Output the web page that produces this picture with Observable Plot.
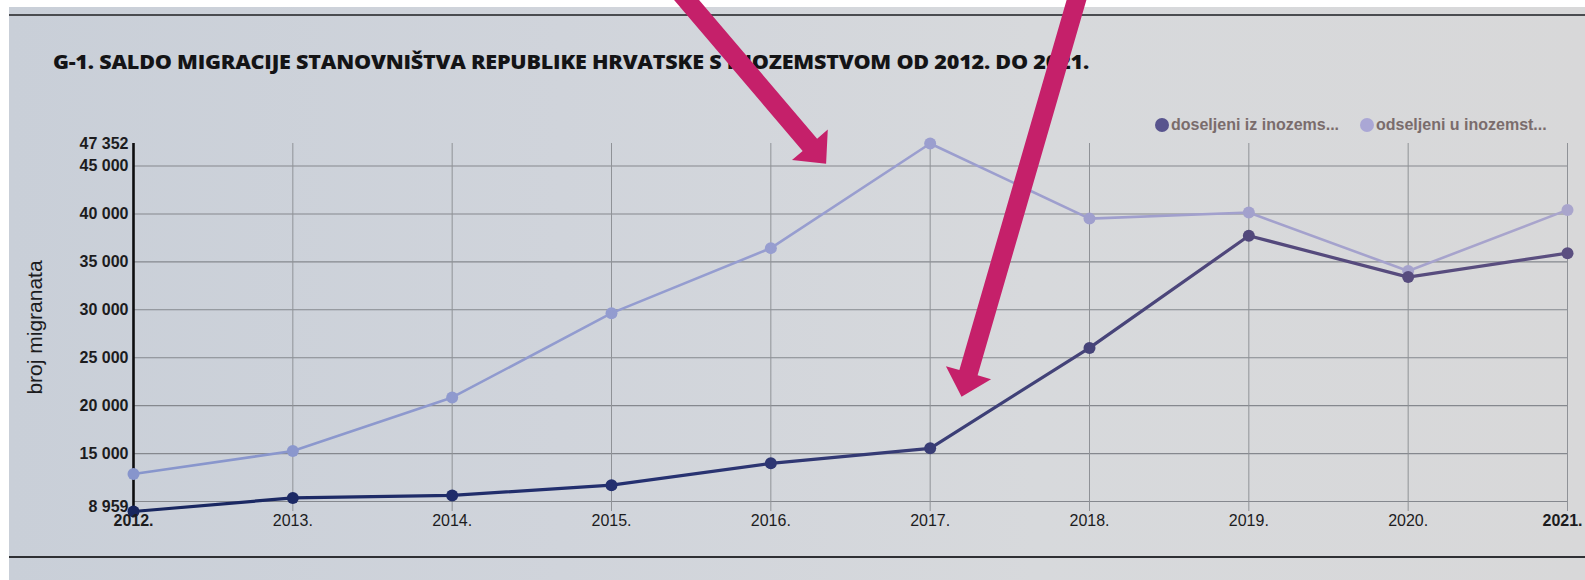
<!DOCTYPE html>
<html>
<head>
<meta charset="utf-8">
<script src="https://cdn.jsdelivr.net/npm/d3@7"></script>
<script src="https://cdn.jsdelivr.net/npm/@observablehq/plot@0.6"></script>
<style>
  html, body { margin: 0; padding: 0; background: #ffffff; }
  #page { position: relative; width: 1585px; height: 580px; overflow: hidden; background: #ffffff; }
  #paper { position: absolute; left: 9px; top: 7px; right: 0; bottom: 0;
    background: linear-gradient(to right, #c9cfd8 0%, #d0d4db 35%, #d7d9dc 65%, #d8d8d9 100%); }
  #topRule { position: absolute; left: 9px; right: 0; top: 14px; height: 2px; background: #4a4c50; }
  #bottomRule { position: absolute; left: 9px; right: 0; top: 556px; height: 2px; background: #2f3034; }
  #title { position: absolute; left: 53px; top: 48px; font-family: "Open Sans", sans-serif; font-weight: 800;
    font-size: 20px; color: #141416; white-space: nowrap; transform-origin: 0 0; letter-spacing: -0.2px; }
  #legend { position: absolute; top: 117px; left: 0; width: 1585px; height: 20px;
    font-family: "Liberation Sans", Arial, sans-serif; font-size: 16px; font-weight: bold; color: #7a6c6c; }
  .lg { position: absolute; top: 0; white-space: nowrap; line-height: 16px; }
  .sw { display: inline-block; width: 14px; height: 14px; border-radius: 50%; vertical-align: -2px; margin-right: 2px; }
  #chart { position: absolute; left: 0; top: 0; }
</style>
</head>
<body>
<div id="page">
  <div id="paper"></div>
  <div id="topRule"></div>
  <div id="bottomRule"></div>
  <div id="title">G-1. SALDO MIGRACIJE STANOVNIŠTVA REPUBLIKE HRVATSKE S INOZEMSTVOM OD 2012. DO 2021.</div>
  <div id="legend"></div>
  <div id="chart"></div>
</div>
<script>
// ---- data ----
const years = [2012, 2013, 2014, 2015, 2016, 2017, 2018, 2019, 2020, 2021];
const immigrants = [8959, 10378, 10638, 11706, 13985, 15553, 26029, 37726, 33414, 35912];   // doseljeni iz inozemstva
const emigrants  = [12877, 15262, 20858, 29651, 36436, 47352, 39515, 40148, 34046, 40424];  // odseljeni u inozemstvo
const seriesNames = ["doseljeni iz inozems...", "odseljeni u inozemst..."];
const yTickValues = [8959, 15000, 20000, 25000, 30000, 35000, 40000, 45000, 47352];
const yGridValues = [10000, 15000, 20000, 25000, 30000, 35000, 40000, 45000];
const xTickLabels = ["2012.", "2013.", "2014.", "2015.", "2016.", "2017.", "2018.", "2019.", "2020.", "2021."];
const yAxisTitle = "broj migranata";
// magenta annotation arrows (photo overlay), in data units
const arrowFromYear  = [2015.42, 2017.94];
const arrowFromValue = [63330, 63330];
const arrowToYear    = [2016.35, 2017.20];
const arrowToValue   = [45180, 20880];

// ---- build tables ----
const immRows = years.map((y, i) => ({year: y, value: immigrants[i]}));
const emiRows = years.map((y, i) => ({year: y, value: emigrants[i]}));
const arrowRows = arrowFromYear.map((_, i) => ({x1: arrowFromYear[i], y1: arrowFromValue[i], x2: arrowToYear[i], y2: arrowToValue[i]}));
const yMin = d3.min(yTickValues), yMax = d3.max(yTickValues);
const fmt = d => d3.format(",")(d).replace(/,/g, " ");

// legend
const legendColors = ["#58548e", "#aaa7d5"];
const legendX = [1155, 1360];
const legend = document.getElementById("legend");
seriesNames.forEach((name, i) => {
  const el = document.createElement("div");
  el.className = "lg";
  el.style.left = legendX[i] + "px";
  el.innerHTML = `<span class="sw" style="background:${legendColors[i]}"></span>${name}`;
  legend.appendChild(el);
});

// gradient defs (photo lighting)
function defsMark(index, scales) {
  const x0 = scales.x(years[0]), x1 = scales.x(years[years.length - 1]);
  const svg = d3.create("svg:g");
  const defs = svg.append("defs");
  const mk = (id, stops) => {
    const g = defs.append("linearGradient").attr("id", id).attr("gradientUnits", "userSpaceOnUse")
      .attr("x1", x0).attr("x2", x1).attr("y1", 0).attr("y2", 0);
    stops.forEach(([o, c]) => g.append("stop").attr("offset", o).attr("stop-color", c));
  };
  mk("gradLow", [[0, "#18265f"], [0.35, "#243070"], [0.6, "#3e4077"], [0.8, "#54497c"], [1, "#5b4f80"]]);
  mk("gradHigh", [[0, "#8795cc"], [0.4, "#959dd0"], [0.7, "#a09fcd"], [1, "#a9a5cc"]]);
  return svg.node();
}

function arrowsMark(index, scales) {
  const g = d3.create("svg:g");
  const shaft = 19, headLen = 25, headHalf = 23.5;
  for (const a of arrowRows) {
    const sx = scales.x(a.x1), sy = scales.y(a.y1), tx = scales.x(a.x2), ty = scales.y(a.y2);
    const dx = tx - sx, dy = ty - sy, L = Math.hypot(dx, dy);
    const ux = dx / L, uy = dy / L, nx = -uy, ny = ux;
    const bx = tx - ux * headLen, by = ty - uy * headLen;
    const pts = [
      [sx + nx * shaft / 2, sy + ny * shaft / 2],
      [bx + nx * shaft / 2, by + ny * shaft / 2],
      [bx + nx * headHalf, by + ny * headHalf],
      [tx, ty],
      [bx - nx * headHalf, by - ny * headHalf],
      [bx - nx * shaft / 2, by - ny * shaft / 2],
      [sx - nx * shaft / 2, sy - ny * shaft / 2]
    ];
    g.append("polygon").attr("points", pts.map(p => p.join(",")).join(" ")).attr("fill", "#c5206a");
  }
  return g.node();
}

const font = "Liberation Sans, Arial, sans-serif";
const plot = Plot.plot({
  width: 1585,
  height: 580,
  marginLeft: 133,
  marginRight: 18,
  marginTop: 143,
  marginBottom: 69,
  style: {background: "transparent", overflow: "visible", color: "#1c1c1e"},
  x: {type: "linear", domain: [years[0], years[years.length - 1]]},
  y: {domain: [yMin, yMax]},
  marks: [
    defsMark,
    Plot.ruleY(yGridValues, {x1: years[0], x2: years[years.length - 1], stroke: "#85888e", strokeWidth: 1.1}),
    Plot.ruleX(years.slice(1), {y1: yMin, y2: yMax, stroke: "#8f9297", strokeWidth: 1}),
    Plot.ruleX([years[0]], {y1: yMin, y2: yMax, stroke: "#0d0d0f", strokeWidth: 2.6}),
    Plot.line(emiRows, {x: "year", y: "value", stroke: "url(#gradHigh)", strokeWidth: 2.6}),
    Plot.dot(emiRows, {x: "year", y: "value", r: 6, fill: "url(#gradHigh)"}),
    Plot.line(immRows, {x: "year", y: "value", stroke: "url(#gradLow)", strokeWidth: 3.2}),
    Plot.dot(immRows, {x: "year", y: "value", r: 6, fill: "url(#gradLow)"}),
    Plot.axisY(yTickValues.filter(v => v !== yMin), {tickSize: 0, tickPadding: 5, tickFormat: fmt, fontSize: 16, fontWeight: "bold",
      fontFamily: font, label: null}),
    Plot.axisY([yMin], {tickSize: 0, tickPadding: 5, tickFormat: fmt, fontSize: 16, fontWeight: "bold",
      fontFamily: font, label: null, dy: -5}),
    Plot.axisX(years.slice(0, -1), {tickSize: 0, tickPadding: 3, tickFormat: d => xTickLabels[years.indexOf(d)], fontSize: 16,
      fontFamily: font, label: null}),
    Plot.axisX(years.slice(-1), {tickSize: 0, tickPadding: 3, tickFormat: d => xTickLabels[years.indexOf(d)], fontSize: 16,
      fontFamily: font, fontWeight: "bold", label: null, dx: -5}),
    Plot.text([yAxisTitle], {frameAnchor: "left", textAnchor: "middle", rotate: -90, dx: -98, fontSize: 21,
      fontFamily: font, fill: "#1c1c1e"}),
    arrowsMark
  ]
});
document.getElementById("chart").appendChild(plot);

// emphasize first x label
d3.select(plot).selectAll("text").each(function() {
  if (this.textContent === xTickLabels[0]) d3.select(this).attr("font-weight", "bold");
});

// fit title width
const title = document.getElementById("title");
const w = title.getBoundingClientRect().width;
title.style.transform = `scaleX(${1036 / w})`;
</script>
</body>
</html>
